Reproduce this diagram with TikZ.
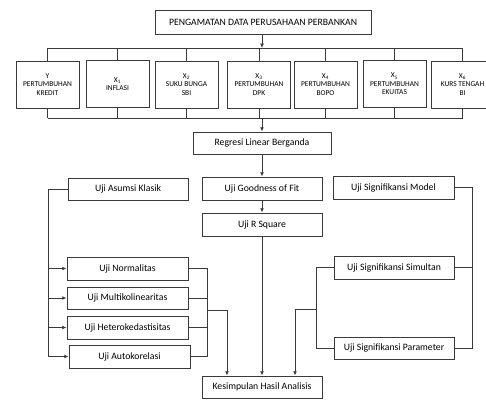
\documentclass[tikz,border=0pt]{standalone}
\usepackage{fontspec}
\setmainfont{Carlito}
\usepackage{tikz}
\usetikzlibrary{arrows.meta,positioning,calc}
\definecolor{garis}{HTML}{3A3A3A}
\newdimen\px \px=0.75pt
\newcommand{\var}[2]{#1\\#2}

\begin{document}
\begin{tikzpicture}[
    x=0.75pt, y=-0.75pt,
    font=\fontsize{7.3}{8.5}\selectfont,
    kotak/.style={draw=garis, line width=0.7pt, fill=white, align=center,
      minimum width=120\px, minimum height=23\px, inner sep=1pt},
    varbox/.style={kotak, minimum width=63\px, minimum height=47\px,
      font=\fontsize{5.6}{6.4}\selectfont},
    conn/.style={-{Latex[length=3.2pt,width=2.8pt]}, line width=0.6pt, garis},
    lin/.style={line width=0.6pt, garis}
  ]
    \useasboundingbox (0,0) rectangle (486,405);
    % judul
    \node[kotak, minimum width=216\px, minimum height=24\px] (obs) at (263,22)
      {PENGAMATAN DATA PERUSAHAAN PERBANKAN};
    % variabel
    \node[varbox] (y)  at (47.5,84.5)  {\var{Y}{PERTUMBUHAN\\KREDIT}};
    \node[varbox] (x1) at (117.5,84)   {\var{X\textsubscript{1}}{INFLASI}};
    \node[varbox] (x2) at (186.5,84.5) {\var{X\textsubscript{2}}{SUKU BUNGA\\SBI}};
    \node[varbox] (x3) at (259,84.5)   {\var{X\textsubscript{3}}{PERTUMBUHAN\\DPK}};
    \node[varbox] (x4) at (325.5,84.5) {\var{X\textsubscript{4}}{PERTUMBUHAN\\BOPO}};
    \node[varbox] (x5) at (394.5,84)   {\var{X\textsubscript{5}}{PERTUMBUHAN\\EKUITAS}};
    \node[varbox] (x6) at (462.5,84.5) {\var{X\textsubscript{6}}{KURS TENGAH\\BI}};
    \coordinate (tbus) at (262,48);
    \coordinate (bbus) at (262,118);
    \draw[lin] (y.north |- tbus) -- (x6.north |- tbus);
    \draw[lin] (y.south |- bbus) -- (x6.south |- bbus);
    \foreach \v in {y,x1,x2,x3,x4,x5,x6} {
      \draw[lin] (\v.north) -- (\v.north |- tbus);
      \draw[lin] (\v.south) -- (\v.south |- bbus);
    }
    \draw[conn] (obs.south -| tbus) -- (tbus);
    % analisis
    \node[kotak, minimum width=138\px, minimum height=22\px] (reg) at (262,143) {Regresi Linear Berganda};
    \node[kotak] (gof) at (262,188.5) {Uji Goodness of Fit};
    \node[kotak, minimum height=22\px] (ak) at (128,189) {Uji Asumsi Klasik};
    \node[kotak, minimum width=121\px] (sm) at (393.5,187.5) {Uji Signifikansi Model};
    \node[kotak] (rsq) at (262,224.5) {Uji R Square};
    \node[kotak, minimum width=121\px] (norm) at (127.5,268.5) {Uji Normalitas};
    \node[kotak, minimum width=121\px, minimum height=22\px] (multi) at (127.5,298) {Uji Multikolinearitas};
    \node[kotak, minimum width=121\px] (hetero) at (127.5,327.5) {Uji Heterokedastisitas};
    \node[kotak, minimum width=121\px] (auto) at (129.5,356.5) {Uji Autokorelasi};
    \node[kotak] (simul) at (394,267.5) {Uji Signifikansi Simultan};
    \node[kotak, minimum height=22\px] (param) at (394,348) {Uji Signifikansi Parameter};
    \node[kotak, minimum height=22\px] (kes) at (262,387) {Kesimpulan Hasil Analisis};
    \draw[conn] (bbus) -- (reg.north);
    \draw[conn] (reg.south) -- (gof.north);
    \draw[conn] (gof.south) -- (rsq.north);
    \draw[conn] (rsq.south) -- (kes.north);
    % asumsi klasik
    \coordinate (lbus) at (48,0);
    \coordinate (rbus) at (207,0);
    \coordinate (jl) at (207,310);
    \draw[conn] (ak.west) -- (ak.west -| lbus) |- (auto.west);
    \foreach \v in {norm,multi,hetero}
      \draw[conn] (\v.west -| lbus) -- (\v.west);
    \draw[lin] (norm.east) -- (norm.east -| rbus) |- (auto.east);
    \foreach \v in {multi,hetero}
      \draw[lin] (\v.east) -- (\v.east -| rbus);
    \draw[conn] (jl) -| ([xshift=-35\px]kes.north);
    % signifikansi model
    \coordinate (sbus) at (472,0);
    \coordinate (pbus) at (316,0);
    \coordinate (jr) at (316,309);
    \draw[lin] (sm.east) -- (sm.east -| sbus) |- (param.east);
    \draw[lin] (simul.east) -- (simul.east -| sbus);
    \draw[lin] (simul.west) -- (simul.west -| pbus) |- (param.west);
    \draw[conn] (jr) -| ([xshift=33\px]kes.north);
  \end{tikzpicture}
\end{document}
